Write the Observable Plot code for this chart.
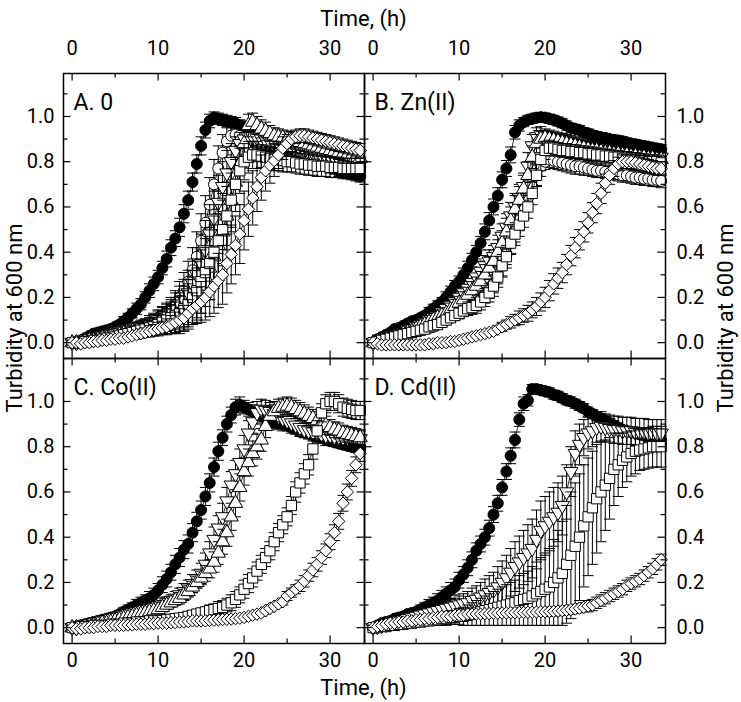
<!DOCTYPE html>
<html><head><meta charset="utf-8">
<script src="https://cdn.jsdelivr.net/npm/d3@7"></script>
<script src="https://cdn.jsdelivr.net/npm/@observablehq/plot@0.6"></script>
<style>body{margin:0;background:#fff}</style>
</head><body><div id="chart"></div>
<script>
// ---------- data ----------
const time = [0,0.5,1,1.5,2,2.5,3,3.5,4,4.5, 5,5.5,6,6.5,7,7.5,8,8.5,9,9.5,
  10,10.5,11,11.5,12,12.5,13,13.5,14,14.5, 15,15.5,16,16.5,17,17.5,18,18.5,19,19.5,
  20,20.5,21,21.5,22,22.5,23,23.5,24,24.5, 25,25.5,26,26.5,27,27.5,28,28.5,29,29.5,
  30,30.5,31,31.5,32,32.5,33,33.5];

const panelKeys = ["A","B","C","D"];
const panelLabels = ["A. 0","B. Zn(II)","C. Co(II)","D. Cd(II)"];
const panelCols = ["L","R","L","R"];
const panelRows = ["T","T","B","B"];

const xTickLabels = [0,10,20,30];
const xMajorTicks = [0,10,20,30];
const xMinorTicks = [5,15,25];
const yTickLabels = [0,0.2,0.4,0.6,0.8,1.0];
const yMinorTicks = [0.1,0.3,0.5,0.7,0.9,1.1];
const xTitle = "Time, (h)";
const yTitle = "Turbidity at 600 nm";

// Panel A (no metal)
const aFC = [0.00,0.005,0.01,0.02,0.03,0.04,0.045,0.05,0.055,0.06,
 0.07,0.08,0.095,0.11,0.13,0.15,0.17,0.20,0.23,0.26,
 0.29,0.33,0.37,0.42,0.46,0.51,0.57,0.63,0.71,0.79,
 0.87,0.94,0.98,0.995,0.99,0.985,0.98,0.975,0.97,0.96,
 0.955,0.95,0.94,0.935,0.925,0.92,0.91,0.90,0.89,0.88,
 0.87,0.86,0.85,0.84,0.83,0.82,0.81,0.80,0.79,0.785,
 0.775,0.77,0.76,0.755,0.75,0.745,0.74,0.735];
const aFCe = [0.01,0.01,0.01,0.01,0.01,0.01,0.01,0.01,0.01,0.01,
 0.015,0.015,0.02,0.02,0.02,0.025,0.025,0.025,0.03,0.03,
 0.03,0.03,0.035,0.035,0.035,0.04,0.04,0.04,0.04,0.04,
 0.04,0.035,0.03,0.025,0.025,0.025,0.025,0.025,0.025,0.025,
 0.025,0.025,0.025,0.025,0.025,0.025,0.025,0.025,0.025,0.025,
 0.025,0.025,0.025,0.025,0.025,0.025,0.025,0.025,0.025,0.025,
 0.025,0.025,0.025,0.025,0.025,0.025,0.025,0.025];
const aOC = [0.0,0.0,0.005,0.01,0.015,0.02,0.025,0.03,0.035,0.04,
 0.045,0.05,0.055,0.06,0.065,0.07,0.075,0.08,0.09,0.10,
 0.11,0.12,0.13,0.15,0.17,0.20,0.23,0.27,0.32,0.38,
 0.45,0.53,0.61,0.70,0.77,0.84,0.89,0.915,0.92,0.915,
 0.91,0.905,0.90,0.895,0.89,0.885,0.88,0.875,0.87,0.865,
 0.86,0.855,0.85,0.845,0.84,0.835,0.83,0.825,0.82,0.815,
 0.81,0.805,0.80,0.795,0.79,0.785,0.78,0.775];
const aOCe = [0.01,0.01,0.01,0.01,0.01,0.01,0.01,0.01,0.01,0.01,
 0.015,0.015,0.02,0.02,0.02,0.02,0.025,0.025,0.03,0.03,
 0.035,0.04,0.045,0.05,0.06,0.07,0.08,0.09,0.10,0.11,
 0.12,0.12,0.12,0.11,0.10,0.08,0.06,0.05,0.04,0.04,
 0.035,0.035,0.035,0.035,0.035,0.035,0.035,0.035,0.035,0.035,
 0.03,0.03,0.03,0.03,0.03,0.03,0.03,0.03,0.03,0.03,
 0.03,0.03,0.03,0.03,0.03,0.03,0.03,0.03];
const aDT = [0.0,0.0,0.005,0.01,0.01,0.015,0.02,0.025,0.03,0.035,
 0.04,0.045,0.05,0.055,0.06,0.065,0.07,0.075,0.08,0.09,
 0.10,0.11,0.12,0.13,0.15,0.17,0.19,0.22,0.26,0.30,
 0.35,0.41,0.48,0.55,0.62,0.69,0.75,0.80,0.85,0.88,
 0.90,0.91,0.91,0.905,0.90,0.895,0.89,0.885,0.88,0.875,
 0.87,0.865,0.86,0.855,0.85,0.845,0.84,0.835,0.83,0.825,
 0.82,0.815,0.81,0.805,0.80,0.795,0.79,0.785];
const aDTe = [0.01,0.01,0.01,0.01,0.01,0.01,0.01,0.01,0.01,0.01,
 0.015,0.015,0.02,0.02,0.02,0.025,0.025,0.03,0.03,0.035,
 0.04,0.045,0.05,0.06,0.07,0.08,0.09,0.10,0.11,0.12,
 0.13,0.13,0.13,0.12,0.12,0.11,0.10,0.08,0.06,0.05,
 0.04,0.04,0.04,0.04,0.04,0.04,0.04,0.04,0.04,0.04,
 0.035,0.035,0.035,0.035,0.035,0.035,0.035,0.035,0.035,0.035,
 0.03,0.03,0.03,0.03,0.03,0.03,0.03,0.03];
const aUT = [0.0,0.0,0.0,0.005,0.01,0.01,0.015,0.02,0.02,0.025,
 0.03,0.035,0.04,0.045,0.05,0.055,0.06,0.065,0.07,0.075,
 0.08,0.09,0.10,0.11,0.12,0.135,0.15,0.17,0.19,0.22,
 0.25,0.29,0.33,0.38,0.43,0.49,0.56,0.63,0.71,0.79,
 0.88,0.96,0.975,0.96,0.945,0.935,0.925,0.915,0.91,0.905,
 0.90,0.895,0.89,0.885,0.88,0.875,0.87,0.865,0.86,0.855,
 0.85,0.845,0.84,0.835,0.83,0.825,0.82,0.815];
const aUTe = [0.01,0.01,0.01,0.01,0.01,0.01,0.01,0.01,0.01,0.01,
 0.015,0.015,0.02,0.02,0.02,0.025,0.025,0.03,0.03,0.035,
 0.04,0.045,0.05,0.055,0.06,0.07,0.08,0.09,0.10,0.11,
 0.12,0.13,0.14,0.14,0.14,0.14,0.13,0.12,0.10,0.08,
 0.06,0.05,0.04,0.04,0.04,0.04,0.035,0.035,0.035,0.035,
 0.035,0.035,0.035,0.035,0.035,0.035,0.035,0.035,0.035,0.035,
 0.03,0.03,0.03,0.03,0.03,0.03,0.03,0.03];
const aSQ = [0.0,0.0,0.0,0.005,0.005,0.01,0.01,0.015,0.02,0.02,
 0.025,0.03,0.035,0.04,0.045,0.05,0.055,0.06,0.065,0.07,
 0.08,0.09,0.10,0.11,0.12,0.13,0.15,0.17,0.20,0.23,
 0.27,0.31,0.35,0.40,0.45,0.50,0.56,0.63,0.70,0.76,
 0.80,0.82,0.83,0.83,0.825,0.82,0.815,0.81,0.81,0.805,
 0.80,0.80,0.795,0.79,0.79,0.785,0.785,0.78,0.78,0.78,
 0.775,0.775,0.775,0.77,0.77,0.77,0.77,0.77];
const aSQe = [0.01,0.01,0.01,0.01,0.01,0.01,0.01,0.01,0.01,0.01,
 0.015,0.015,0.02,0.02,0.025,0.025,0.03,0.03,0.035,0.04,
 0.045,0.05,0.06,0.07,0.08,0.09,0.10,0.11,0.12,0.13,
 0.14,0.15,0.16,0.16,0.16,0.16,0.15,0.14,0.12,0.10,
 0.08,0.07,0.06,0.06,0.05,0.05,0.05,0.05,0.05,0.05,
 0.045,0.045,0.045,0.045,0.045,0.045,0.045,0.045,0.045,0.045,
 0.045,0.045,0.045,0.045,0.045,0.045,0.045,0.045];
const aDI = [0.0,0.0,-0.005,0.0,0.0,0.005,0.005,0.01,0.01,0.015,
 0.015,0.02,0.02,0.025,0.03,0.035,0.04,0.045,0.05,0.055,
 0.06,0.065,0.07,0.08,0.09,0.10,0.11,0.13,0.15,0.165,
 0.18,0.20,0.225,0.25,0.275,0.30,0.35,0.39,0.43,0.48,
 0.54,0.59,0.64,0.69,0.73,0.76,0.785,0.805,0.83,0.86,
 0.88,0.90,0.91,0.915,0.915,0.91,0.905,0.90,0.895,0.89,
 0.885,0.88,0.875,0.87,0.865,0.86,0.855,0.85];
const aDIe = [0.01,0.01,0.01,0.01,0.01,0.01,0.01,0.01,0.01,0.01,
 0.01,0.01,0.015,0.015,0.015,0.02,0.02,0.02,0.025,0.025,
 0.03,0.03,0.035,0.04,0.045,0.05,0.055,0.06,0.07,0.08,
 0.09,0.10,0.11,0.12,0.12,0.13,0.13,0.13,0.13,0.13,
 0.13,0.12,0.12,0.11,0.10,0.09,0.08,0.07,0.06,0.05,
 0.04,0.035,0.03,0.03,0.03,0.03,0.03,0.03,0.03,0.03,
 0.03,0.03,0.03,0.03,0.03,0.03,0.03,0.03];

// Panel B (Zn(II))
const bFC = [0.0,0.015,0.025,0.035,0.045,0.06,0.065,0.075,0.085,0.095,
 0.10,0.11,0.12,0.135,0.15,0.165,0.18,0.20,0.225,0.25,
 0.27,0.30,0.33,0.365,0.40,0.44,0.49,0.54,0.60,0.65,
 0.72,0.77,0.83,0.93,0.96,0.975,0.985,0.99,0.995,0.997,
 0.995,0.99,0.985,0.978,0.97,0.96,0.95,0.945,0.94,0.93,
 0.925,0.918,0.912,0.908,0.905,0.90,0.897,0.894,0.89,0.885,
 0.88,0.877,0.873,0.87,0.866,0.862,0.858,0.855];
const bFCe = [0.01,0.01,0.01,0.01,0.01,0.01,0.01,0.01,0.01,0.01,
 0.015,0.015,0.015,0.02,0.02,0.02,0.02,0.025,0.025,0.025,
 0.025,0.03,0.03,0.03,0.03,0.03,0.035,0.035,0.035,0.035,
 0.035,0.035,0.035,0.03,0.025,0.02,0.02,0.02,0.02,0.02,
 0.02,0.02,0.02,0.02,0.02,0.02,0.02,0.02,0.02,0.02,
 0.02,0.02,0.02,0.02,0.02,0.02,0.02,0.02,0.02,0.02,
 0.02,0.02,0.02,0.02,0.02,0.02,0.02,0.02];
const bOC = [0.0,0.005,0.01,0.015,0.02,0.025,0.03,0.035,0.04,0.045,
 0.05,0.055,0.06,0.065,0.07,0.08,0.09,0.10,0.11,0.12,
 0.13,0.14,0.15,0.16,0.17,0.19,0.21,0.23,0.26,0.30,
 0.34,0.39,0.44,0.49,0.54,0.59,0.64,0.69,0.74,0.78,
 0.80,0.81,0.805,0.80,0.795,0.79,0.785,0.78,0.78,0.775,
 0.77,0.765,0.76,0.76,0.755,0.75,0.75,0.745,0.74,0.74,
 0.735,0.73,0.73,0.725,0.725,0.72,0.72,0.715];
const bOCe = [0.01,0.01,0.01,0.01,0.01,0.01,0.01,0.01,0.01,0.01,
 0.015,0.015,0.015,0.015,0.015,0.015,0.015,0.015,0.015,0.015,
 0.02,0.02,0.025,0.025,0.03,0.03,0.035,0.035,0.04,0.04,
 0.045,0.045,0.045,0.045,0.045,0.045,0.045,0.045,0.045,0.045,
 0.035,0.035,0.035,0.035,0.035,0.035,0.035,0.035,0.035,0.035,
 0.03,0.03,0.03,0.03,0.03,0.03,0.03,0.03,0.03,0.03,
 0.03,0.03,0.03,0.03,0.03,0.03,0.03,0.03];
const bDT = [0.0,0.005,0.01,0.02,0.025,0.03,0.04,0.045,0.055,0.06,
 0.07,0.08,0.09,0.10,0.11,0.12,0.135,0.15,0.165,0.18,
 0.20,0.22,0.24,0.265,0.29,0.315,0.34,0.36,0.38,0.42,
 0.47,0.51,0.56,0.60,0.64,0.69,0.78,0.87,0.91,0.92,
 0.915,0.91,0.905,0.90,0.895,0.89,0.885,0.88,0.875,0.87,
 0.865,0.86,0.855,0.85,0.85,0.845,0.845,0.84,0.84,0.835,
 0.835,0.83,0.83,0.83,0.825,0.825,0.82,0.82];
const bDTe = [0.01,0.01,0.01,0.01,0.01,0.01,0.01,0.01,0.01,0.01,
 0.015,0.015,0.02,0.02,0.02,0.025,0.025,0.025,0.03,0.03,
 0.03,0.035,0.035,0.04,0.04,0.045,0.045,0.05,0.05,0.055,
 0.055,0.06,0.06,0.06,0.06,0.06,0.06,0.05,0.04,0.035,
 0.03,0.03,0.03,0.03,0.03,0.03,0.03,0.03,0.03,0.03,
 0.03,0.03,0.03,0.03,0.03,0.03,0.03,0.03,0.03,0.03,
 0.03,0.03,0.03,0.03,0.03,0.03,0.03,0.03];
const bUT = [0.0,0.005,0.01,0.015,0.02,0.025,0.03,0.04,0.045,0.05,
 0.06,0.07,0.08,0.09,0.10,0.11,0.12,0.13,0.145,0.16,
 0.175,0.19,0.21,0.23,0.25,0.27,0.30,0.33,0.36,0.40,
 0.44,0.49,0.54,0.59,0.63,0.68,0.74,0.82,0.88,0.90,
 0.905,0.90,0.895,0.89,0.885,0.88,0.875,0.87,0.865,0.86,
 0.855,0.85,0.85,0.845,0.84,0.84,0.835,0.835,0.83,0.83,
 0.825,0.825,0.82,0.82,0.815,0.815,0.81,0.81];
const bUTe = [0.01,0.01,0.01,0.01,0.01,0.01,0.01,0.01,0.01,0.01,
 0.015,0.015,0.02,0.02,0.02,0.025,0.025,0.025,0.03,0.03,
 0.03,0.035,0.035,0.04,0.04,0.045,0.045,0.05,0.05,0.055,
 0.055,0.06,0.06,0.06,0.06,0.06,0.06,0.05,0.04,0.035,
 0.03,0.03,0.03,0.03,0.03,0.03,0.03,0.03,0.03,0.03,
 0.03,0.03,0.03,0.03,0.03,0.03,0.03,0.03,0.03,0.03,
 0.03,0.03,0.03,0.03,0.03,0.03,0.03,0.03];
const bSQ = [0.0,0.005,0.01,0.015,0.02,0.025,0.03,0.035,0.04,0.045,
 0.05,0.055,0.06,0.07,0.075,0.08,0.09,0.10,0.11,0.12,
 0.13,0.14,0.15,0.155,0.165,0.18,0.20,0.22,0.25,0.29,
 0.34,0.38,0.44,0.48,0.52,0.56,0.60,0.66,0.74,0.81,
 0.85,0.86,0.86,0.855,0.85,0.85,0.845,0.845,0.84,0.84,
 0.835,0.835,0.83,0.83,0.825,0.825,0.82,0.82,0.815,0.815,
 0.81,0.81,0.805,0.805,0.80,0.80,0.80,0.795];
const bSQe = [0.01,0.01,0.01,0.01,0.01,0.01,0.01,0.01,0.01,0.01,
 0.015,0.015,0.015,0.015,0.015,0.02,0.02,0.02,0.02,0.02,
 0.025,0.025,0.03,0.03,0.035,0.035,0.04,0.04,0.045,0.045,
 0.05,0.05,0.05,0.05,0.05,0.05,0.05,0.05,0.05,0.05,
 0.04,0.035,0.03,0.03,0.03,0.03,0.03,0.03,0.03,0.03,
 0.03,0.03,0.03,0.03,0.03,0.03,0.03,0.03,0.03,0.03,
 0.03,0.03,0.03,0.03,0.03,0.03,0.03,0.03];
const bDI = [0.0,-0.005,-0.01,-0.01,-0.01,-0.01,-0.01,-0.01,-0.01,-0.01,
 -0.01,-0.01,-0.01,-0.005,-0.005,0.0,0.0,0.0,0.005,0.005,
 0.01,0.015,0.02,0.025,0.03,0.035,0.04,0.045,0.05,0.06,
 0.07,0.08,0.09,0.10,0.11,0.12,0.13,0.145,0.16,0.18,
 0.20,0.23,0.26,0.285,0.31,0.345,0.385,0.42,0.455,0.49,
 0.53,0.575,0.615,0.66,0.705,0.74,0.77,0.79,0.80,0.80,
 0.80,0.795,0.79,0.785,0.78,0.775,0.77,0.77];
const bDIe = [0.01,0.01,0.01,0.01,0.01,0.01,0.01,0.01,0.01,0.01,
 0.01,0.01,0.01,0.01,0.01,0.01,0.01,0.01,0.01,0.01,
 0.015,0.015,0.015,0.015,0.015,0.015,0.015,0.015,0.015,0.015,
 0.02,0.02,0.025,0.025,0.03,0.03,0.035,0.035,0.04,0.04,
 0.045,0.045,0.045,0.045,0.045,0.045,0.045,0.045,0.045,0.045,
 0.045,0.045,0.045,0.045,0.04,0.04,0.035,0.03,0.03,0.03,
 0.03,0.03,0.03,0.03,0.03,0.03,0.03,0.03];

// Panel C (Co(II))
const cFC = [0.0,0.005,0.01,0.015,0.02,0.025,0.03,0.035,0.04,0.045,
 0.05,0.06,0.07,0.08,0.09,0.10,0.11,0.12,0.13,0.145,
 0.165,0.19,0.215,0.245,0.28,0.31,0.345,0.37,0.42,0.47,
 0.52,0.58,0.64,0.71,0.78,0.84,0.90,0.94,0.975,0.985,
 0.975,0.965,0.955,0.945,0.935,0.925,0.915,0.91,0.905,0.90,
 0.895,0.885,0.88,0.87,0.865,0.86,0.85,0.845,0.84,0.83,
 0.825,0.82,0.815,0.81,0.805,0.80,0.795,0.79];
const cFCe = [0.01,0.01,0.01,0.01,0.01,0.01,0.01,0.01,0.01,0.01,
 0.015,0.015,0.02,0.02,0.02,0.025,0.025,0.025,0.03,0.03,
 0.03,0.035,0.035,0.035,0.04,0.04,0.04,0.04,0.04,0.04,
 0.04,0.04,0.04,0.04,0.04,0.035,0.035,0.035,0.035,0.035,
 0.03,0.03,0.03,0.03,0.03,0.03,0.03,0.03,0.03,0.03,
 0.025,0.025,0.025,0.025,0.025,0.025,0.025,0.025,0.025,0.025,
 0.02,0.02,0.02,0.02,0.02,0.02,0.02,0.02];
const cDT = [0.0,0.0,0.005,0.01,0.015,0.02,0.025,0.03,0.035,0.04,
 0.045,0.05,0.055,0.06,0.065,0.07,0.075,0.08,0.085,0.09,
 0.095,0.10,0.11,0.12,0.13,0.145,0.16,0.175,0.195,0.215,
 0.24,0.28,0.33,0.39,0.44,0.49,0.56,0.63,0.68,0.73,
 0.79,0.86,0.91,0.95,0.965,0.96,0.955,0.945,0.935,0.925,
 0.915,0.905,0.895,0.885,0.875,0.87,0.865,0.86,0.855,0.85,
 0.85,0.845,0.845,0.84,0.84,0.84,0.835,0.835];
const cDTe = [0.01,0.01,0.01,0.01,0.01,0.01,0.01,0.01,0.01,0.01,
 0.015,0.015,0.015,0.015,0.015,0.015,0.015,0.015,0.015,0.015,
 0.02,0.02,0.025,0.025,0.03,0.03,0.035,0.035,0.04,0.04,
 0.045,0.05,0.05,0.055,0.055,0.06,0.06,0.06,0.06,0.06,
 0.06,0.055,0.05,0.05,0.045,0.045,0.04,0.04,0.04,0.04,
 0.035,0.035,0.035,0.035,0.035,0.035,0.035,0.035,0.035,0.035,
 0.035,0.035,0.035,0.035,0.035,0.035,0.035,0.035];
const cUT = [0.0,0.0,0.0,0.005,0.01,0.01,0.015,0.02,0.02,0.025,
 0.03,0.035,0.04,0.045,0.05,0.055,0.06,0.065,0.07,0.075,
 0.08,0.09,0.10,0.11,0.12,0.13,0.145,0.16,0.18,0.20,
 0.22,0.24,0.26,0.29,0.33,0.38,0.42,0.49,0.55,0.62,
 0.69,0.73,0.77,0.80,0.83,0.89,0.935,0.955,0.97,0.975,
 0.98,0.975,0.965,0.955,0.945,0.935,0.925,0.915,0.905,0.895,
 0.885,0.875,0.87,0.86,0.855,0.85,0.845,0.84];
const cUTe = [0.01,0.01,0.01,0.01,0.01,0.01,0.01,0.01,0.01,0.01,
 0.015,0.015,0.015,0.015,0.015,0.015,0.015,0.015,0.015,0.015,
 0.02,0.02,0.02,0.02,0.02,0.025,0.025,0.025,0.025,0.025,
 0.03,0.035,0.04,0.045,0.05,0.055,0.06,0.06,0.06,0.06,
 0.06,0.06,0.055,0.055,0.05,0.05,0.045,0.045,0.04,0.04,
 0.04,0.04,0.04,0.04,0.04,0.04,0.04,0.04,0.04,0.04,
 0.035,0.035,0.035,0.035,0.035,0.035,0.035,0.035];
const cSQ = [0.0,0.0,0.005,0.005,0.005,0.01,0.01,0.01,0.01,0.015,
 0.015,0.015,0.02,0.02,0.02,0.025,0.025,0.025,0.03,0.03,
 0.03,0.032,0.035,0.037,0.04,0.042,0.045,0.05,0.055,0.06,
 0.065,0.07,0.075,0.08,0.085,0.09,0.10,0.11,0.125,0.145,
 0.17,0.195,0.22,0.25,0.28,0.31,0.34,0.38,0.42,0.455,
 0.49,0.54,0.60,0.64,0.68,0.72,0.79,0.87,0.95,0.99,
 1.0,1.0,0.99,0.975,0.97,0.965,0.96,0.96];
const cSQe = [0.01,0.01,0.01,0.01,0.01,0.01,0.01,0.01,0.01,0.01,
 0.015,0.015,0.015,0.015,0.015,0.015,0.015,0.015,0.015,0.015,
 0.02,0.02,0.02,0.02,0.02,0.02,0.02,0.02,0.02,0.02,
 0.02,0.02,0.025,0.025,0.03,0.03,0.03,0.035,0.035,0.035,
 0.04,0.04,0.04,0.04,0.04,0.04,0.04,0.04,0.04,0.04,
 0.04,0.04,0.045,0.045,0.045,0.045,0.045,0.045,0.04,0.04,
 0.04,0.04,0.04,0.04,0.04,0.04,0.04,0.04];
const cDI = [0.0,-0.005,-0.005,0.0,0.0,0.0,0.005,0.005,0.005,0.01,
 0.01,0.01,0.01,0.012,0.012,0.015,0.015,0.015,0.018,0.018,
 0.02,0.02,0.02,0.022,0.022,0.025,0.025,0.027,0.03,0.03,
 0.03,0.03,0.032,0.033,0.035,0.036,0.037,0.038,0.04,0.042,
 0.045,0.05,0.055,0.06,0.065,0.075,0.085,0.095,0.105,0.115,
 0.14,0.155,0.17,0.185,0.205,0.23,0.255,0.28,0.31,0.34,
 0.38,0.42,0.47,0.55,0.60,0.66,0.72,0.77];
const cDIe = [0.01,0.01,0.01,0.01,0.01,0.01,0.01,0.01,0.01,0.01,
 0.01,0.01,0.01,0.01,0.01,0.01,0.01,0.01,0.01,0.01,
 0.01,0.01,0.01,0.01,0.01,0.01,0.01,0.01,0.01,0.01,
 0.01,0.01,0.01,0.01,0.01,0.01,0.01,0.01,0.01,0.01,
 0.015,0.015,0.015,0.015,0.015,0.015,0.015,0.015,0.015,0.015,
 0.02,0.02,0.02,0.025,0.025,0.025,0.03,0.03,0.03,0.03,
 0.035,0.035,0.035,0.035,0.035,0.035,0.035,0.035];

// Panel D (Cd(II))
const dFC = [0.0,0.01,0.02,0.025,0.03,0.04,0.045,0.05,0.06,0.065,
 0.07,0.08,0.09,0.10,0.11,0.12,0.135,0.15,0.165,0.18,
 0.21,0.235,0.265,0.30,0.34,0.37,0.40,0.44,0.50,0.55,
 0.62,0.69,0.76,0.83,0.92,0.99,1.005,1.055,1.055,1.05,
 1.045,1.04,1.03,1.025,1.015,1.005,1.0,0.99,0.98,0.97,
 0.955,0.945,0.935,0.925,0.915,0.905,0.895,0.885,0.875,0.87,
 0.865,0.86,0.855,0.85,0.845,0.84,0.835,0.83];
const dFCe = [0.01,0.01,0.01,0.01,0.01,0.01,0.01,0.01,0.01,0.01,
 0.015,0.02,0.02,0.025,0.025,0.03,0.03,0.03,0.035,0.035,
 0.035,0.035,0.035,0.035,0.035,0.035,0.035,0.035,0.035,0.035,
 0.035,0.035,0.035,0.035,0.03,0.03,0.025,0.02,0.02,0.02,
 0.02,0.02,0.02,0.02,0.02,0.02,0.02,0.02,0.02,0.02,
 0.02,0.02,0.02,0.02,0.02,0.02,0.02,0.02,0.02,0.02,
 0.02,0.02,0.02,0.02,0.02,0.02,0.02,0.02];
const dDT = [0.0,0.005,0.01,0.015,0.02,0.025,0.03,0.035,0.04,0.045,
 0.05,0.055,0.06,0.065,0.07,0.075,0.08,0.085,0.09,0.095,
 0.10,0.105,0.11,0.12,0.125,0.135,0.145,0.155,0.165,0.18,
 0.20,0.22,0.245,0.27,0.29,0.31,0.33,0.35,0.39,0.43,
 0.45,0.47,0.49,0.51,0.54,0.60,0.69,0.77,0.81,0.84,
 0.86,0.87,0.885,0.89,0.885,0.88,0.875,0.875,0.87,0.87,
 0.87,0.865,0.865,0.865,0.86,0.86,0.86,0.86];
const dDTe = [0.01,0.01,0.01,0.01,0.01,0.01,0.01,0.01,0.01,0.01,
 0.015,0.015,0.02,0.02,0.025,0.025,0.03,0.03,0.035,0.035,
 0.04,0.045,0.05,0.055,0.06,0.065,0.07,0.075,0.08,0.09,
 0.095,0.10,0.105,0.11,0.115,0.12,0.125,0.13,0.13,0.13,
 0.13,0.13,0.13,0.13,0.13,0.12,0.11,0.10,0.09,0.08,
 0.07,0.07,0.065,0.065,0.06,0.06,0.06,0.06,0.06,0.06,
 0.06,0.06,0.06,0.06,0.06,0.06,0.06,0.06];
const dSQ = [0.0,0.0,0.005,0.005,0.01,0.01,0.015,0.015,0.02,0.02,
 0.025,0.025,0.03,0.03,0.035,0.035,0.04,0.04,0.045,0.045,
 0.05,0.05,0.055,0.06,0.065,0.07,0.075,0.08,0.085,0.09,
 0.095,0.10,0.105,0.11,0.12,0.125,0.13,0.14,0.15,0.16,
 0.17,0.18,0.20,0.22,0.24,0.28,0.32,0.36,0.40,0.45,
 0.49,0.53,0.57,0.60,0.63,0.66,0.70,0.72,0.74,0.755,
 0.77,0.78,0.785,0.79,0.795,0.80,0.80,0.80];
const dSQe = [0.01,0.01,0.01,0.01,0.01,0.01,0.01,0.01,0.01,0.01,
 0.015,0.015,0.02,0.02,0.02,0.025,0.025,0.03,0.03,0.03,
 0.035,0.04,0.045,0.05,0.055,0.06,0.065,0.07,0.075,0.08,
 0.085,0.09,0.095,0.10,0.11,0.115,0.12,0.13,0.14,0.15,
 0.16,0.17,0.19,0.21,0.23,0.26,0.28,0.28,0.28,0.27,
 0.26,0.25,0.24,0.22,0.20,0.18,0.16,0.14,0.12,0.11,
 0.10,0.10,0.09,0.09,0.09,0.09,0.09,0.09];
const dDI = [0.0,0.005,0.01,0.015,0.02,0.02,0.025,0.025,0.03,0.03,
 0.035,0.035,0.04,0.04,0.045,0.045,0.05,0.05,0.05,0.055,
 0.055,0.055,0.06,0.06,0.06,0.06,0.062,0.062,0.064,0.064,
 0.065,0.065,0.066,0.066,0.067,0.067,0.068,0.068,0.069,0.07,
 0.07,0.071,0.072,0.073,0.075,0.077,0.08,0.083,0.086,0.09,
 0.095,0.10,0.11,0.12,0.13,0.14,0.15,0.16,0.17,0.185,
 0.195,0.205,0.215,0.23,0.245,0.26,0.28,0.30];
const dDIe = [0.01,0.01,0.01,0.01,0.01,0.01,0.01,0.01,0.01,0.01,
 0.015,0.015,0.015,0.015,0.015,0.015,0.015,0.015,0.015,0.015,
 0.015,0.015,0.015,0.015,0.015,0.015,0.015,0.015,0.015,0.015,
 0.015,0.015,0.015,0.015,0.015,0.015,0.015,0.015,0.015,0.015,
 0.02,0.02,0.02,0.02,0.02,0.02,0.02,0.02,0.02,0.02,
 0.025,0.025,0.025,0.025,0.025,0.025,0.025,0.025,0.025,0.025,
 0.025,0.025,0.025,0.025,0.025,0.025,0.025,0.025];

// panel -> series -> [values, errors]
const seriesTable = [
  ["A","fc",aFC,aFCe],["A","oc",aOC,aOCe],["A","dt",aDT,aDTe],["A","ut",aUT,aUTe],["A","sq",aSQ,aSQe],["A","di",aDI,aDIe],
  ["B","fc",bFC,bFCe],["B","oc",bOC,bOCe],["B","dt",bDT,bDTe],["B","ut",bUT,bUTe],["B","sq",bSQ,bSQe],["B","di",bDI,bDIe],
  ["C","fc",cFC,cFCe],["C","dt",cDT,cDTe],["C","ut",cUT,cUTe],["C","sq",cSQ,cSQe],["C","di",cDI,cDIe],
  ["D","fc",dFC,dFCe],["D","dt",dDT,dDTe],["D","sq",dSQ,dSQe],["D","di",dDI,dDIe]
];

// ---------- layout / style ----------
const W = 741, H = 702;
const M = {top: 72, right: 76, bottom: 59, left: 62};
const panelW = (W - M.left - M.right) / 2;
const panelH = (H - M.top - M.bottom) / 2;
const FONT = "Roboto, 'Open Sans', 'DejaVu Sans', sans-serif";

const seriesOrder = ["fc","oc","dt","ut","sq","di"];
const seriesStyle = {
  fc: {symbol: "circle", fill: "black", r: 5.5, rotate: 0},
  oc: {symbol: "circle", fill: "white", r: 5.5, rotate: 0},
  dt: {symbol: "triangle", fill: "white", r: 5.3, rotate: 180},
  ut: {symbol: "triangle", fill: "white", r: 5.3, rotate: 0},
  sq: {symbol: "square", fill: "white", r: 5.8, rotate: 0},
  di: {symbol: "diamond2", fill: "white", r: 5.6, rotate: 0}
};
const capSymbol = {draw(ctx) { ctx.moveTo(-5.5, 0); ctx.lineTo(5.5, 0); }};

// ---------- build records ----------
const records = [];
for (const [pk, sk, vals, errs] of seriesTable) {
  const pi = panelKeys.indexOf(pk);
  vals.forEach((v, i) => {
    records.push({panel: pk, series: sk, col: panelCols[pi], row: panelRows[pi], t: time[i], v, e: errs[i]});
  });
}
const panelRecords = panelKeys.map((k, i) => ({panel: k, label: panelLabels[i], col: panelCols[i], row: panelRows[i]}));

const seriesMarks = [];
for (const sk of seriesOrder) {
  const d = records.filter(r => r.series === sk);
  if (!d.length) continue;
  const st = seriesStyle[sk];
  seriesMarks.push(
    Plot.ruleX(d, {x: "t", y1: r => r.v - r.e, y2: r => r.v + r.e, fx: "col", fy: "row", stroke: "black", strokeWidth: 1}),
    Plot.dot(d, {x: "t", y: r => r.v + r.e, fx: "col", fy: "row", symbol: capSymbol, r: 1, fill: "none", stroke: "black", strokeWidth: 1}),
    Plot.dot(d, {x: "t", y: r => r.v - r.e, fx: "col", fy: "row", symbol: capSymbol, r: 1, fill: "none", stroke: "black", strokeWidth: 1}),
    Plot.line(d, {x: "t", y: "v", z: "panel", fx: "col", fy: "row", stroke: "black", strokeWidth: 0.8}),
    Plot.dot(d, {x: "t", y: "v", fx: "col", fy: "row", symbol: st.symbol, r: st.r, rotate: st.rotate, fill: st.fill, stroke: "black", strokeWidth: 1})
  );
}

const chart = Plot.plot({
  width: W, height: H,
  marginTop: M.top, marginRight: M.right, marginBottom: M.bottom, marginLeft: M.left,
  style: {fontFamily: FONT, fontSize: "20px", background: "white", color: "black"},
  x: {domain: [-1, 34]},
  y: {domain: [-0.07, 1.19]},
  fx: {domain: ["L","R"], padding: 0, axis: null, label: null},
  fy: {domain: ["T","B"], padding: 0, axis: null, label: null},
  marks: [
    ...seriesMarks,
    // inward tick marks on all four sides of every panel
    Plot.tickX(xMajorTicks, {x: d => d, stroke: "black", strokeWidth: 1.2, insetTop: panelH - 8}),
    Plot.tickX(xMajorTicks, {x: d => d, stroke: "black", strokeWidth: 1.2, insetBottom: panelH - 8}),
    Plot.tickX(xMinorTicks, {x: d => d, stroke: "black", strokeWidth: 1.2, insetTop: panelH - 5}),
    Plot.tickX(xMinorTicks, {x: d => d, stroke: "black", strokeWidth: 1.2, insetBottom: panelH - 5}),
    Plot.tickY(yTickLabels, {y: d => d, stroke: "black", strokeWidth: 1.2, insetRight: panelW - 8}),
    Plot.tickY(yTickLabels, {y: d => d, stroke: "black", strokeWidth: 1.2, insetLeft: panelW - 8}),
    Plot.tickY(yMinorTicks, {y: d => d, stroke: "black", strokeWidth: 1.2, insetRight: panelW - 5}),
    Plot.tickY(yMinorTicks, {y: d => d, stroke: "black", strokeWidth: 1.2, insetLeft: panelW - 5}),
    Plot.frame({stroke: "black", strokeWidth: 1.5}),
    Plot.axisX(xTickLabels, {anchor: "top", facetAnchor: "top", tickSize: 0, tickPadding: 19, label: null, fontSize: 20}),
    Plot.axisX(xTickLabels, {anchor: "bottom", facetAnchor: "bottom", tickSize: 0, tickPadding: 9, label: null, fontSize: 20}),
    Plot.axisY(yTickLabels, {anchor: "left", facetAnchor: "left", tickSize: 0, tickPadding: 9, tickFormat: d3.format(".1f"), label: null, fontSize: 20}),
    Plot.axisY(yTickLabels, {anchor: "right", facetAnchor: "right", tickSize: 0, tickPadding: 11, tickFormat: d3.format(".1f"), label: null, fontSize: 20}),
    Plot.text(panelRecords, {text: "label", fx: "col", fy: "row", frameAnchor: "top-left", textAnchor: "start", lineAnchor: "top", dx: 10, dy: 20, fontSize: 23, fill: "black"})
  ]
});
document.getElementById("chart").append(chart);

// axis titles
const svg = d3.select(chart);
const cx = M.left + (W - M.left - M.right) / 2;
svg.append("text").attr("x", cx).attr("y", 26).attr("text-anchor", "middle")
  .attr("font-size", 22).attr("font-family", FONT).attr("fill", "black").text(xTitle);
svg.append("text").attr("x", cx).attr("y", H - 7).attr("text-anchor", "middle")
  .attr("font-size", 22).attr("font-family", FONT).attr("fill", "black").text(xTitle);
svg.append("text").attr("transform", `translate(22,318) rotate(-90)`).attr("text-anchor", "middle")
  .attr("font-size", 22).attr("font-family", FONT).attr("fill", "black").text(yTitle);
svg.append("text").attr("transform", `translate(733,318) rotate(-90)`).attr("text-anchor", "middle")
  .attr("font-size", 22).attr("font-family", FONT).attr("fill", "black").text(yTitle);
</script></body></html>
